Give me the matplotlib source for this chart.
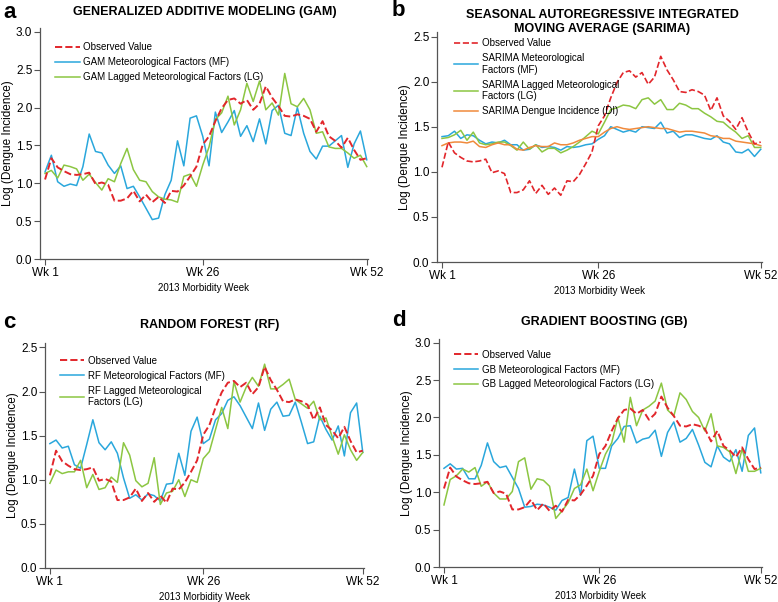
import numpy as np
import matplotlib
matplotlib.use('Agg')
import matplotlib.pyplot as plt

plt.rcParams['font.family'] = ['Liberation Sans', 'DejaVu Sans']

weeks = np.arange(1, 53)

observed = [1.05, 1.33, 1.21, 1.16, 1.12, 1.11, 1.12, 1.14, 0.99, 1.01,
            0.98, 0.77, 0.77, 0.80, 0.90, 0.76, 0.85, 0.75, 0.82, 0.74,
            0.90, 0.89, 0.97, 1.09, 1.22, 1.51, 1.62, 1.82, 1.99, 2.10,
            2.12, 2.05, 2.10, 1.97, 2.05, 2.28, 2.13, 2.02, 1.89, 1.88,
            1.91, 1.89, 1.85, 1.68, 1.82, 1.62, 1.56, 1.47, 1.60, 1.44,
            1.31, 1.33]

gam_mf = [1.15, 1.37, 1.02, 0.96, 0.99, 0.97, 1.22, 1.65, 1.42, 1.40,
          1.24, 1.13, 1.23, 0.93, 0.96, 0.82, 0.67, 0.52, 0.54, 0.85,
          1.04, 1.56, 1.23, 1.86, 1.89, 1.62, 1.23, 1.94, 1.67, 1.81,
          1.96, 1.62, 1.76, 1.55, 1.85, 1.52, 1.96, 2.03, 1.66, 1.63,
          2.00, 1.66, 1.42, 1.32, 1.49, 1.49, 1.56, 1.63, 1.21, 1.52,
          1.69, 1.31]
gam_lg = [1.13, 1.17, 1.07, 1.24, 1.22, 1.19, 1.04, 1.12, 1.01, 0.91,
          1.06, 1.02, 1.26, 1.46, 1.18, 1.04, 1.02, 0.89, 0.82, 0.79,
          0.78, 0.75, 1.09, 1.12, 0.96, 1.24, 1.48, 1.84, 1.93, 2.15,
          1.77, 1.97, 2.32, 2.08, 2.35, 1.97, 2.06, 1.90, 2.45, 2.05,
          2.01, 2.12, 1.97, 1.66, 1.68, 1.48, 1.46, 1.46, 1.40, 1.33,
          1.37, 1.22]

sarima_mf = [1.39, 1.40, 1.45, 1.37, 1.41, 1.40, 1.35, 1.31, 1.33, 1.32,
             1.35, 1.30, 1.30, 1.24, 1.25, 1.30, 1.27, 1.28, 1.27, 1.24,
             1.28, 1.27, 1.28, 1.30, 1.31, 1.36, 1.40, 1.50, 1.47, 1.44,
             1.46, 1.44, 1.50, 1.49, 1.48, 1.55, 1.43, 1.45, 1.38, 1.41,
             1.41, 1.39, 1.37, 1.36, 1.40, 1.33, 1.31, 1.22, 1.21, 1.25,
             1.17, 1.25]
sarima_lg = [1.37, 1.38, 1.41, 1.46, 1.35, 1.44, 1.32, 1.30, 1.31, 1.33,
             1.33, 1.29, 1.24, 1.33, 1.25, 1.30, 1.22, 1.26, 1.26, 1.21,
             1.24, 1.28, 1.33, 1.39, 1.45, 1.42, 1.55, 1.69, 1.71, 1.74,
             1.73, 1.70, 1.80, 1.82, 1.75, 1.80, 1.69, 1.69, 1.76, 1.74,
             1.70, 1.70, 1.65, 1.61, 1.56, 1.55, 1.49, 1.44, 1.37, 1.40,
             1.27, 1.27]
sarima_di = [1.29, 1.32, 1.33, 1.33, 1.32, 1.34, 1.28, 1.27, 1.30, 1.32,
             1.30, 1.30, 1.25, 1.24, 1.27, 1.29, 1.28, 1.28, 1.32, 1.30,
             1.30, 1.32, 1.35, 1.37, 1.39, 1.39, 1.44, 1.48, 1.50, 1.48,
             1.47, 1.48, 1.49, 1.50, 1.49, 1.48, 1.48, 1.46, 1.44, 1.45,
             1.45, 1.44, 1.43, 1.40, 1.39, 1.37, 1.37, 1.34, 1.33, 1.32,
             1.31, 1.29]

rf_mf = [1.41, 1.45, 1.36, 1.38, 1.17, 1.13, 1.40, 1.68, 1.42, 1.34,
         1.43, 1.30, 1.02, 0.79, 0.83, 0.77, 0.84, 0.82, 0.76, 0.95,
         0.96, 1.30, 1.05, 1.55, 1.71, 1.41, 1.46, 1.68, 1.75, 1.90,
         1.94, 1.84, 1.71, 1.58, 1.87, 1.56, 1.80, 1.88, 1.72, 1.73,
         1.88, 1.65, 1.41, 1.43, 1.72, 1.57, 1.45, 1.61, 1.27, 1.76,
         1.87, 1.31]
rf_lg = [0.96, 1.11, 1.07, 1.09, 1.09, 1.22, 0.91, 1.06, 0.89, 0.91,
         1.03, 0.97, 1.42, 1.28, 0.99, 0.92, 0.96, 1.25, 0.72, 0.85,
         0.87, 1.00, 0.81, 1.00, 0.97, 1.24, 1.32, 1.57, 1.82, 1.58,
         2.11, 1.88, 2.05, 2.16, 2.06, 2.31, 2.03, 2.03, 2.08, 2.14,
         1.91, 1.86, 1.81, 1.89, 1.68, 1.70, 1.49, 1.29, 1.51, 1.34,
         1.22, 1.31]

gb_mf = [1.32, 1.38, 1.31, 1.32, 1.18, 1.18, 1.36, 1.66, 1.41, 1.33,
         1.35, 1.20, 1.05, 0.80, 0.81, 0.84, 0.83, 0.80, 0.76, 0.89,
         0.93, 1.31, 0.96, 1.69, 1.75, 1.32, 1.32, 1.62, 1.72, 1.88,
         1.89, 1.66, 1.71, 1.73, 1.83, 1.48, 1.80, 1.94, 1.67, 1.72,
         1.84, 1.63, 1.40, 1.34, 1.62, 1.47, 1.41, 1.57, 1.28, 1.76,
         1.86, 1.26]
gb_lg = [0.83, 1.17, 1.22, 1.31, 1.27, 1.33, 1.08, 1.14, 0.99, 0.91,
         0.91, 1.01, 1.41, 1.46, 1.04, 1.18, 1.16, 1.08, 0.65, 0.75,
         0.86, 1.05, 1.10, 1.31, 1.02, 1.28, 1.51, 1.66, 2.00, 1.67,
         2.27, 1.89, 2.10, 2.15, 2.22, 2.46, 2.10, 2.02, 2.33, 2.24,
         2.08, 2.00, 1.82, 2.05, 1.62, 1.60, 1.54, 1.25, 1.58, 1.28,
         1.28, 1.32]

xtick_pos = [1, 26, 52]
xtick_labels = ['Wk 1', 'Wk 26', 'Wk 52']

RED = '#e2262b'
BLUE = '#2aa7dc'
GREEN = '#8cc642'
ORANGE = '#f08a3c'

W, H = 778, 602
fig = plt.figure(figsize=(W / 100, H / 100), dpi=100)


def px_axes(left, top, right, bottom):
  return fig.add_axes([left / W, 1 - bottom / H, (right - left) / W, (bottom - top) / H])


def style(ax, ymax, yticks, title, letter, letter_xy, title_xy, leg_anchor):
  ax.set_xlim(0.2, 52.2)
  ax.set_ylim(0, ymax)
  ax.set_xticks(xtick_pos)
  ax.set_xticklabels(xtick_labels, fontsize=8.5)
  ax.set_yticks(yticks)
  ax.set_yticklabels([f'{t:.1f}' for t in yticks], fontsize=8.5)
  ax.spines['top'].set_visible(False)
  ax.spines['right'].set_visible(False)
  for s in ['left', 'bottom']:
    ax.spines[s].set_color('#555555')
    ax.spines[s].set_linewidth(0.9)
  ax.tick_params(direction='out', length=4, width=0.8, color='#555555', pad=1.5)
  ax.set_xlabel('2013 Morbidity Week', fontsize=7, labelpad=3)
  ax.set_ylabel('Log (Dengue Incidence)', fontsize=8.5, labelpad=1)
  fig.text(title_xy[0] / W, 1 - title_xy[1] / H, title, fontsize=9, fontweight='bold',
           ha='center', va='center', linespacing=1.25)
  fig.text(letter_xy[0] / W, 1 - letter_xy[1] / H, letter, fontsize=16, fontweight='bold',
           ha='left', va='center')
  ax.legend(loc='upper left', frameon=False, fontsize=7,
            handlelength=2.5, handletextpad=0.35, labelspacing=0.5, borderaxespad=0.0,
            bbox_to_anchor=leg_anchor)


# a: GAM
ax = px_axes(40, 28, 368, 259)
ax.plot(weeks, observed, '--', color=RED, lw=1.4, label='Observed Value', zorder=3)
ax.plot(weeks, gam_mf, '-', color=BLUE, lw=1.1, label='GAM Meteorological Factors (MF)')
ax.plot(weeks, gam_lg, '-', color=GREEN, lw=1.1, label='GAM Lagged Meteorological Factors (LG)')
style(ax, 3.05, [0.0, 0.5, 1.0, 1.5, 2.0, 2.5, 3.0],
      'GENERALIZED ADDITIVE MODELING (GAM)', 'a', (3, 12), (205, 12), (0.035, 0.955))

# b: SARIMA
ax = px_axes(437, 32, 762, 262)
ax.plot(weeks, observed, '--', color=RED, lw=1.2, label='Observed Value', zorder=3)
ax.plot(weeks, sarima_mf, '-', color=BLUE, lw=1.1, label='SARIMA Meteorological\nFactors (MF)')
ax.plot(weeks, sarima_lg, '-', color=GREEN, lw=1.1, label='SARIMA Lagged Meteorological\nFactors (LG)')
ax.plot(weeks, sarima_di, '-', color=ORANGE, lw=1.1, label='SARIMA Dengue Incidence (DI)')
style(ax, 2.55, [0.0, 0.5, 1.0, 1.5, 2.0, 2.5],
      'SEASONAL AUTOREGRESSIVE INTEGRATED\nMOVING AVERAGE (SARIMA)', 'b', (392, 11), (602, 22),
      (0.04, 0.99))

# c: Random forest
ax = px_axes(45, 343, 364, 568)
ax.plot(weeks, observed, '--', color=RED, lw=1.4, label='Observed Value', zorder=3)
ax.plot(weeks, rf_mf, '-', color=BLUE, lw=1.1, label='RF Meteorological Factors (MF)')
ax.plot(weeks, rf_lg, '-', color=GREEN, lw=1.1, label='RF Lagged Meteorological\nFactors (LG)')
style(ax, 2.55, [0.0, 0.5, 1.0, 1.5, 2.0, 2.5],
      'RANDOM FOREST (RF)', 'c', (3, 323), (210, 325), (0.035, 0.96))

# d: Gradient boosting
ax = px_axes(439, 339, 762, 567)
ax.plot(weeks, observed, '--', color=RED, lw=1.4, label='Observed Value', zorder=3)
ax.plot(weeks, gb_mf, '-', color=BLUE, lw=1.1, label='GB Meteorological Factors (MF)')
ax.plot(weeks, gb_lg, '-', color=GREEN, lw=1.1, label='GB Lagged Meteorological Factors (LG)')
style(ax, 3.05, [0.0, 0.5, 1.0, 1.5, 2.0, 2.5, 3.0],
      'GRADIENT BOOSTING (GB)', 'd', (392, 320), (604, 322), (0.035, 0.97))

fig.savefig('out.png', dpi=100)
